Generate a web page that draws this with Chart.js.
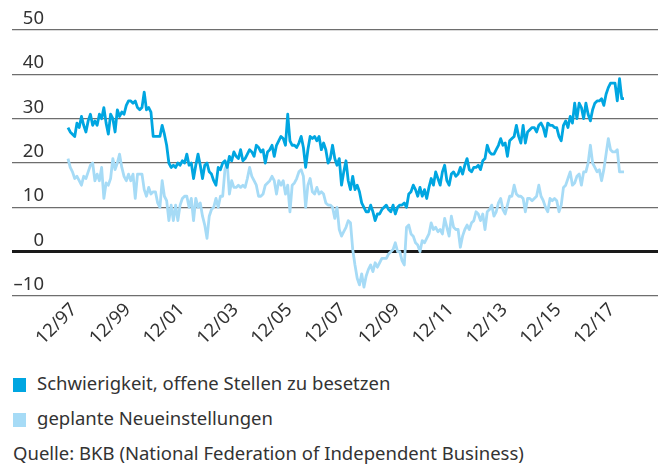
<!DOCTYPE html>
<html>
<head>
<meta charset="utf-8">
<script src="https://cdn.jsdelivr.net/npm/chart.js@4.4.1/dist/chart.umd.min.js"></script>
<style>
  body { margin: 0; background: #fff; font-family: "Noto Sans", sans-serif; color: #333; }
  #wrap { position: relative; width: 658px; height: 466px; }
  #box { position: absolute; left: 0; top: 0; width: 658px; height: 360px; }
  .row { position: absolute; left: 13px; font-size: 18.5px; line-height: 22px; white-space: nowrap; }
  .sq { display: inline-block; width: 13px; height: 14px; vertical-align: -2px; margin-right: 11px; }
</style>
</head>
<body>
<div id="wrap">
  <div id="box"><canvas id="chart"></canvas></div>
  <div class="row" style="top:372px"><span class="sq" style="background:#00a6e1"></span>Schwierigkeit, offene Stellen zu besetzen</div>
  <div class="row" style="top:407px"><span class="sq" style="background:#a6dbf6"></span>geplante Neueinstellungen</div>
  <div class="row" style="top:442px">Quelle: BKB (National Federation of Independent Business)</div>
</div>
<script>
// monatlich, 12/97 bis 08/18
const hardToFill = [
  28, 27, 26.5, 26, 29, 28, 30.5, 28.5, 27, 29.5,
  31, 28.5, 29.5, 28.5, 31, 30, 32.5, 29, 26.5, 31,
  30, 27, 32, 30.5, 31.5, 31, 33, 34, 34, 33.5,
  34, 32.5, 32, 32.5, 36, 32, 32.5, 31.5,
  26, 26, 26, 26, 28.5, 26.5, 24, 20, 19, 19.5,
  19, 20, 19.5, 20.5, 20, 22, 19.5, 20, 16.5, 19.5,
  22, 19.5, 16.5, 19.5, 20, 18, 17.5, 16, 15, 19,
  18.5, 20, 20.5,
  19, 21.5, 20.5, 22.5, 21.5, 21, 23, 20.5, 21, 22,
  23, 22.5, 21.5, 24, 23.5, 22.5, 23, 20, 22.5, 23,
  24, 21.5, 24, 25, 26, 25.5, 24, 31, 25, 24,
  24, 23.5, 24.5, 26, 23.5, 19, 23, 26,
  25.5, 26, 25, 26, 23, 24.5, 23, 20, 21, 24,
  21, 19.5, 21, 15, 18, 20.5, 16, 14, 17, 14,
  15, 13.5, 11, 10, 9, 9, 10.5, 9, 7, 8.5,
  8.5, 9.5, 10, 10.5, 9.5, 9,
  10.5, 8.5, 10, 10.5, 10.5, 11, 10, 13, 13.5, 15,
  14, 12.5, 14.5, 12.5, 14, 12, 14.5, 16.5, 15, 18,
  16.5, 15, 18, 19.5, 16, 15, 17.5, 18, 17, 17.5,
  19, 17.5, 19.5, 21, 18.5, 18, 19,
  19, 19.5, 18.5, 20.5, 21, 24, 22.5, 22, 22, 23,
  24, 25.5, 24, 24.5, 21.5, 25, 25.5, 26, 28.5, 26,
  24.5, 28.5, 24.5, 27, 27.5, 28, 28, 27, 28.5, 29,
  28, 26, 29, 28.5, 28.5, 28,
  28, 26, 25, 28.5, 29.5, 28, 30.5, 29, 33.5, 30,
  33.5, 32.5, 30, 33.5, 31, 29.5, 32, 33.5, 34, 34,
  34.5, 33, 35.5, 37, 38, 38, 38, 34, 39, 34.5, 34.5
];
const hiringPlans = [
  21, 19, 18, 16.5, 17, 16, 15, 17, 16.5, 18,
  19.5, 20, 16, 17.5, 16, 19, 12, 15.5, 15, 16.5,
  21, 18.5, 20, 22, 19, 17, 16, 17.5, 16, 17.5,
  12, 17.5, 17.5, 17.5,
  14, 12.5, 14.5, 13, 13.5, 13.5, 11, 10, 16, 12.5,
  11.5, 7, 10.5, 7, 10.5, 7, 10.5, 12, 12.5, 12.5,
  10, 12, 7, 12, 10, 11, 8, 6, 3, 8,
  9.5, 10, 12, 10, 12.5, 12.5, 18.5,
  20, 13, 16, 14.5, 14.5, 15, 14.5, 15, 14.5, 16.5,
  19, 17, 16, 15, 12.5, 12.5, 13, 15, 15.5, 16,
  17, 16, 13, 16, 15, 16, 13, 15, 9, 15,
  15.5, 16.5, 18, 18.5, 17, 10, 15, 16.5,
  13.5, 13, 14.5, 13, 13.5, 13, 11, 10.5, 10.5, 10,
  7.5, 10, 5, 3.5, 4.5, 5.5, 7, 6.5, 0.5, -3,
  -6, -7.5, -5, -8, -5.5, -4, -3, -4.5, -2.5, -3.5,
  -2.5, -1.5, -1.5, -1.5, -0.5, 0,
  0.5, 2, 0, 0, -2, -3, 5.5, 6, 4, 3.5,
  2, 1.5, 0, 2.5, 2, 3, 4, 6.5, 5, 5.5,
  4.5, 5, 4, 7.5, 5.5, 3.5, 8, 5.5, 5, 5,
  1, 3.5, 5, 6, 5, 6.5, 7,
  9, 8.5, 7, 8.5, 5, 9, 9.5, 10.5, 8, 9,
  11, 12, 9.5, 8.5, 10.5, 12.5, 12.5, 15, 13, 12.5,
  12.5, 12, 9, 12, 12, 11.5, 12, 12.5, 15, 12.5,
  11.5, 10, 9, 12, 11.5, 12,
  11.5, 9, 10.5, 14.5, 15, 16.5, 18, 15, 15.5, 17,
  17.5, 15, 18, 18, 20, 24, 20, 19, 18, 18.5,
  16, 18.5, 22, 25.5, 23, 22.5, 22.5, 23, 18, 18, 18
];
// Beschriftung alle 24 Monate ab 12/97
const tickLabels = ['12/97', '12/99', '12/01', '12/03', '12/05', '12/07', '12/09', '12/11', '12/13', '12/15', '12/17'];
const tickEvery = 24;

// Pixelgeometrie (Plotfläche 12..658)
const areaL = 12, areaR = 658;
const firstPx = 68, lastPx = 624;
const yLabelRight = 44;

const n = hardToFill.length - 1;
const pxPerMonth = (lastPx - firstPx) / n;

const font = { family: '"Noto Sans", sans-serif', size: 18.5 };

// y-Beschriftung über den Gitterlinien, rechtsbündig
const yLabels = {
  id: 'yLabels',
  afterDraw(chart) {
    const ctx = chart.ctx;
    const y = chart.scales.y;
    ctx.save();
    ctx.font = `${font.size}px ${font.family}`;
    ctx.fillStyle = '#333';
    ctx.textAlign = 'right';
    ctx.textBaseline = 'alphabetic';
    y.ticks.forEach((t) => {
      const label = t.value < 0 ? '\u2013' + Math.abs(t.value) : String(t.value);
      ctx.fillText(label, yLabelRight, y.getPixelForValue(t.value) - 6);
    });
    ctx.restore();
  },
};

new Chart(document.getElementById('chart'), {
  type: 'line',
  data: {
    datasets: [
      {
        label: 'Schwierigkeit, offene Stellen zu besetzen',
        data: hardToFill.map((v, i) => ({ x: i, y: v })),
        borderColor: '#00a6e1',
        borderWidth: 2.8,
        pointRadius: 0,
        borderJoinStyle: 'round',
        order: 1,
      },
      {
        label: 'geplante Neueinstellungen',
        data: hiringPlans.map((v, i) => ({ x: i, y: v })),
        borderColor: '#a6dbf6',
        borderWidth: 2.8,
        pointRadius: 0,
        borderJoinStyle: 'round',
        order: 2,
      },
    ],
  },
  plugins: [yLabels],
  options: {
    responsive: true,
    maintainAspectRatio: false,
    animation: false,
    layout: { padding: { left: areaL, right: 0, top: 30, bottom: 8 } },
    plugins: { legend: { display: false }, tooltip: { enabled: false } },
    scales: {
      x: {
        type: 'linear',
        min: -(firstPx - areaL) / pxPerMonth,
        max: n + (areaR - lastPx) / pxPerMonth,
        grid: { display: false },
        border: { display: false },
        afterBuildTicks: (s) => {
          s.ticks = tickLabels.map((t, k) => ({ value: k * tickEvery }));
        },
        afterFit: (s) => { s.height = 56; },
        ticks: {
          autoSkip: false,
          maxRotation: 45,
          minRotation: 45,
          padding: -5,
          labelOffset: 6,
          color: '#333',
          font: font,
          callback: (v) => tickLabels[v / tickEvery],
        },
      },
      y: {
        min: -10,
        max: 50,
        border: { display: false },
        grid: {
          drawTicks: false,
          color: (c) => (c.tick && c.tick.value === 0 ? '#1a1a1a' : '#6e6e6e'),
          lineWidth: (c) => (c.tick && c.tick.value === 0 ? 3 : 1.2),
        },
        ticks: { stepSize: 10, display: false },
      },
    },
  },
});
</script>
</body>
</html>
